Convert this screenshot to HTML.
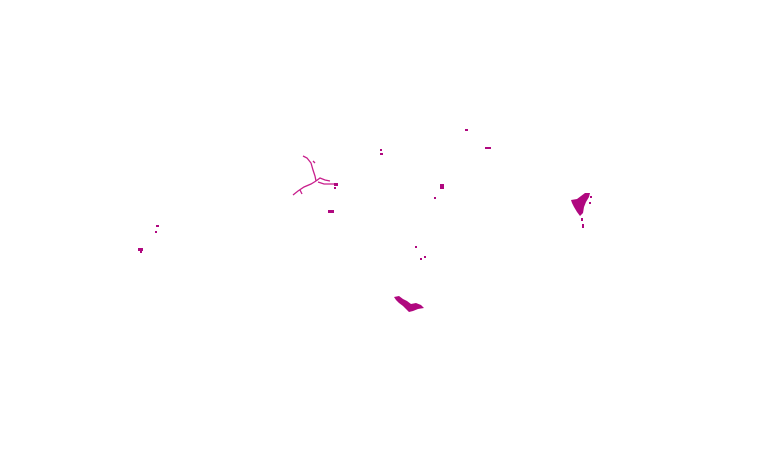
<!DOCTYPE html>
<html><head><meta charset="utf-8"><style>html,body{margin:0;padding:0;background:#fff;width:769px;height:476px;overflow:hidden}</style></head>
<body>
<svg width="769" height="476" viewBox="0 0 769 476" xmlns="http://www.w3.org/2000/svg">
<g fill="#b0087f" stroke="none">
<!-- branching tree -->
<g stroke="#c81f8c" stroke-width="1.3" fill="none">
<polyline points="303,156 307,158 311,163 313,170 315,176 316,181"/>
<polyline points="313,161 315,163"/>
<polyline points="316,181 320,178 325,180 330,181"/>
<polyline points="316,181 311,184 304,187 298,191 293,195"/>
<polyline points="300,190 302,194"/>
<polyline points="318,182 324,184 330,184 336,184"/>
</g>
<rect x="334" y="183" width="4" height="3"/>
<rect x="334" y="187" width="2" height="2"/>
<rect x="328" y="210" width="6" height="3"/>
<!-- small dots -->
<rect x="380" y="149" width="2" height="2"/>
<rect x="380" y="153" width="3" height="2"/>
<rect x="465" y="129" width="3" height="2"/>
<rect x="485" y="147" width="6" height="2"/>
<rect x="440" y="184" width="4" height="5"/>
<rect x="434" y="197" width="2" height="2"/>
<rect x="156" y="225" width="3" height="2"/>
<rect x="155" y="231" width="2" height="2"/>
<rect x="138" y="248" width="5" height="3"/>
<rect x="140" y="251" width="2" height="2"/>
<rect x="415" y="246" width="2" height="2"/>
<rect x="420" y="258" width="2" height="2"/>
<rect x="424" y="256" width="2" height="2"/>
<!-- bottom blob -->
<path d="M394,297 L399,296 L403,299 L407,301 L411,304 L416,303 L421,305 L424,308 L418,309 L413,311 L409,312 L406,309 L403,306 L399,303 L396,300 Z"/>
<!-- right cluster -->
<path d="M571,200 L577,199 L581,196 L585,193 L590,193 L589,197 L586,202 L584,207 L583,213 L580,216 L577,212 L574,207 L572,203 Z"/>
<rect x="581" y="218" width="2" height="3"/>
<rect x="582" y="224" width="2" height="4"/>
<rect x="589" y="202" width="2" height="2"/>
<rect x="590" y="196" width="2" height="2"/>
</g>
</svg>
</body></html>
